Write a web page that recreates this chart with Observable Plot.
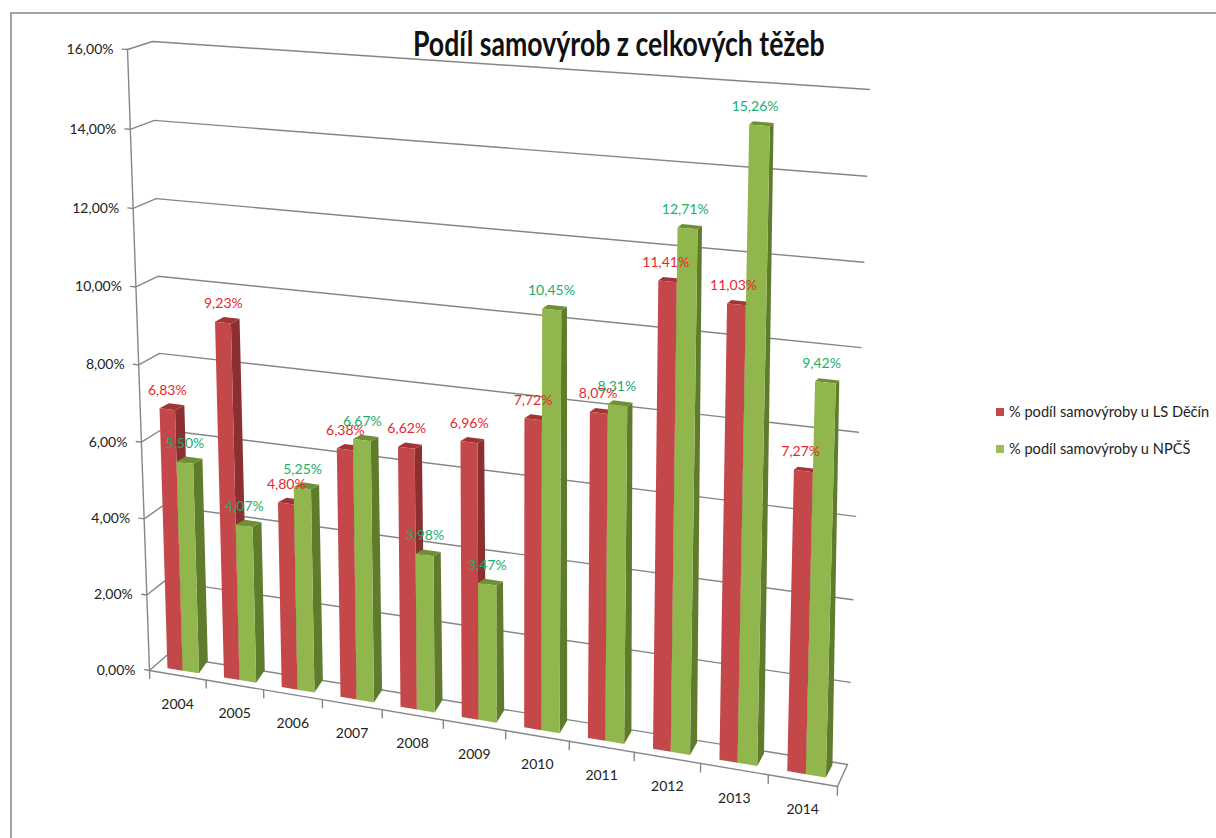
<!DOCTYPE html>
<html lang="cs">
<head>
<meta charset="utf-8">
<title>Podíl samovýrob z celkových těžeb</title>
<script src="https://cdn.jsdelivr.net/npm/d3@7"></script>
<script src="https://cdn.jsdelivr.net/npm/@observablehq/plot@0.6"></script>
<style>
  html, body { margin: 0; background: #fff; }
  #page { position: relative; width: 1216px; height: 838px; overflow: hidden; font-family: Lato, sans-serif; }
  #frame { position: absolute; left: 10px; top: 12px; right: 0; bottom: 0; border-left: 2px solid #a3a3a3; border-top: 2px solid #a3a3a3; }
  #chart { position: absolute; left: 0; top: 0; }
  h1 { position: absolute; left: 413px; top: 21px; margin: 0; font-size: 33.5px; line-height: 44px; font-weight: 700; color: #111; white-space: nowrap; transform: scaleX(0.795); transform-origin: left center; }
  .legend-row { position: absolute; left: 996px; display: flex; align-items: center; font-size: 14.6px; color: #222; white-space: nowrap; }
  .legend-row i { width: 8px; height: 8px; margin-right: 5px; display: block; }
</style>
</head>
<body>
<div id="page">
  <div id="frame"></div>
  <div id="chart"></div>
  <h1>Podíl samovýrob z celkových těžeb</h1>
  <div class="legend-row" style="top:403px"><i style="background:#c4484a"></i>% podíl samovýroby u LS Děčín</div>
  <div class="legend-row" style="top:440px"><i style="background:#9bbb59"></i>% podíl samovýroby u NPČŠ</div>
</div>
<script>
const years = [2004, 2005, 2006, 2007, 2008, 2009, 2010, 2011, 2012, 2013, 2014];
const lsDecin = [6.83, 9.23, 4.80, 6.38, 6.62, 6.96, 7.72, 8.07, 11.41, 11.03, 7.27];
const npcs = [5.50, 4.07, 5.25, 6.67, 3.98, 3.47, 10.45, 8.31, 12.71, 15.26, 9.42];
const valueTicks = [0, 2, 4, 6, 8, 10, 12, 14, 16];

const n = years.length;
const xDef = {domain: [0, n], range: [149, 837]};
const yDef = {domain: [0, 16], range: [670, 49]};
const xS = Plot.scale({x: xDef});
const yS = Plot.scale({y: yDef});

// The 3-D box of the chart as seen in the picture: floor/top, front/back, left/right.
const box = {
  fbl: [149, 670], ftl: [127, 49], bbl: [166, 655], btl: [152, 41],
  fbr: [837, 786], ftr: [853, 105], bbr: [847, 764], btr: [869, 89]
};
const warp = (t, a) => t / (a + (1 - a) * t);
const lerp = (a, b, t) => a + (b - a) * t;
function projectPx(u, v, d) {
  const s = warp(u / n, 1.118), r = warp(v / 16, 1.032);
  const at = k => {
    const front = lerp(lerp(box.fbl[k], box.ftl[k], r), lerp(box.fbr[k], box.ftr[k], r), s);
    const back = lerp(lerp(box.bbl[k], box.btl[k], r), lerp(box.bbr[k], box.btr[k], r), s);
    return lerp(front, back, d);
  };
  return [at(0), at(1)];
}
const toData = ([px, py]) => ({x: xS.invert(px), y: yS.invert(py)});
const project = (u, v, d) => toData(projectPx(u, v, d));

const fmt = v => v.toFixed(2).replace(".", ",") + "%";
const series = [
  {values: lsDecin, f0: 0.23, f1: 0.5, front: "#c4484a", side: "#8c2f30", top: "#a23436", label: "#e5282f"},
  {values: npcs, f0: 0.5, f1: 0.79, front: "#92b64e", side: "#5f7c2c", top: "#6f8f35", label: "#22ad6c"}
];
const d0 = 0.3;

// A bar's front corner and the matching corner on its back, narrower towards the top and the right.
const barFront = (u, v) => toData(projectPx(u, v, d0));
function barBack(u, v) {
  const [px, py] = projectPx(u, v, d0), s = u / n;
  const ox = v === 0 ? lerp(9, 6.5, s) : lerp(10, 4, s) - v / 16;
  const oy = v === 0 ? 12.5 : lerp(5, 3, s);
  return toData([px + ox, py - oy]);
}

const faces = [];
const labels = [];
years.forEach((year, i) => {
  series.forEach((s, j) => {
    const v = s.values[i], a = i + s.f0, b = i + s.f1, c = (a + b) / 2;
    const face = (name, fill, corners) => corners.forEach(p => faces.push({id: `${year}-${j}-${name}`, fill, ...p}));
    face("side", s.side, [barFront(b, 0), barFront(b, v), barBack(b, v), barBack(b, 0)]);
    face("top", s.top, [barFront(a, v), barFront(b, v), barBack(b, v), barBack(a, v)]);
    face("front", s.front, [barFront(a, 0), barFront(b, 0), barFront(b, v), barFront(a, v)]);
    labels.push({
      text: fmt(v), fill: s.label,
      x: project(c, v * (1 - 0.04 * i), d0).x,
      y: project(c, v, d0).y
    });
  });
});

const lines = [];
const addLine = (id, pts) => pts.forEach(p => lines.push({id, ...project(...p)}));
valueTicks.forEach(v => addLine(`grid${v}`, [[-0.09, v, 0], [0, v, 0], [0, v, 1], [n, v, 1]]));
addLine("axisV", [[0, 0, 0], [0, 16, 0]]);
addLine("floor", [[0, 0, 0], [n, 0, 0], [n, 0, 1]]);
d3.range(0, n + 1).forEach(u => addLine(`tick${u}`, [[u, 0, 0], [u, -0.21, 0]]));

const valueLabels = valueTicks.map(v => ({text: fmt(v), ...project(0, v, 0)}));
const yearLabels = years.map((y, i) => ({text: String(y), ...project(i + 0.5, 0, 0)}));

const chart = Plot.plot({
  width: 1216, height: 838,
  marginTop: 0, marginRight: 0, marginBottom: 0, marginLeft: 0,
  x: {...xDef, axis: null},
  y: {...yDef, axis: null},
  color: {type: "identity"},
  style: {background: "transparent", fontFamily: "Lato, sans-serif"},
  marks: [
    Plot.line(lines, {x: "x", y: "y", z: "id", stroke: "#868686", strokeWidth: 1.4, curve: "linear"}),
    Plot.line(faces, {x: "x", y: "y", z: "id", fill: "fill", stroke: null, curve: "linear-closed"}),
    Plot.text(labels, {x: "x", y: "y", text: "text", fill: "fill", dy: -19, fontSize: 14}),
    Plot.text(valueLabels, {x: "x", y: "y", text: "text", textAnchor: "end", dx: -14, fontSize: 14, fill: "#222"}),
    Plot.text(yearLabels, {x: "x", y: "y", text: "text", dy: 29, fontSize: 14, fill: "#222"})
  ]
});
document.getElementById("chart").append(chart);
</script>
</body>
</html>
